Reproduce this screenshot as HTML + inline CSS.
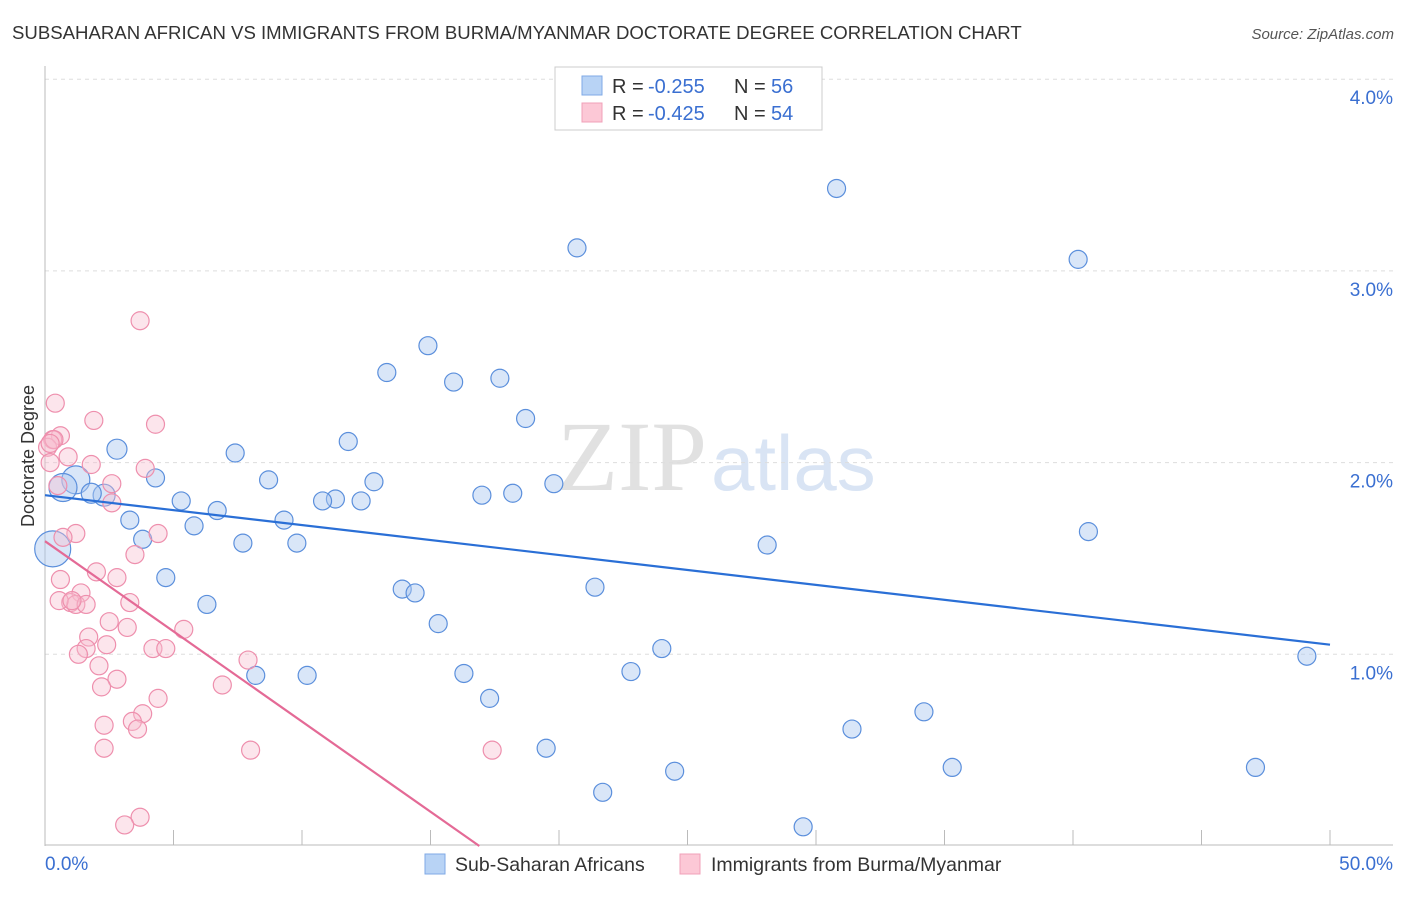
<!DOCTYPE html>
<html><head><meta charset="utf-8"><style>
body{margin:0;background:#fff;font-family:"Liberation Sans",sans-serif;}
svg text{font-family:"Liberation Sans",sans-serif;}
</style></head><body>
<svg id="chart" width="1406" height="892" xmlns="http://www.w3.org/2000/svg">
<text x="12" y="39" font-size="18.6" fill="#333">SUBSAHARAN AFRICAN VS IMMIGRANTS FROM BURMA/MYANMAR DOCTORATE DEGREE CORRELATION CHART</text>
<text x="1394" y="39" font-size="15" fill="#555" text-anchor="end" font-style="italic">Source: ZipAtlas.com</text>
<text x="557" y="490" font-size="100" fill="#ddd" opacity="0.7"><tspan font-family="Liberation Serif" fill="#d5d5d5">ZIP</tspan><tspan fill="#c9daf0" font-size="78" dx="4">atlas</tspan></text>
<g id="grid"></g>
<g id="axes"></g>
<g id="pts"></g>
<g id="trend"></g>
<text transform="translate(34,456) rotate(-90)" font-size="18" fill="#333" text-anchor="middle">Doctorate Degree</text>
<g>
<rect x="555" y="67" width="267" height="63" fill="#fff" stroke="#ccc"/>
<rect x="582" y="76" width="20" height="19" fill="#b8d3f5" stroke="#7fa9e6"/>
<rect x="582" y="103" width="20" height="19" fill="#fcc8d6" stroke="#f0a0b8"/>
<text x="612" y="93" font-size="20" fill="#333">R =</text>
<text x="648" y="93" font-size="20" fill="#3a6fd1">-0.255</text>
<text x="734" y="93" font-size="20" fill="#333">N =</text>
<text x="771" y="93" font-size="20" fill="#3a6fd1">56</text>
<text x="612" y="120" font-size="20" fill="#333">R =</text>
<text x="648" y="120" font-size="20" fill="#3a6fd1">-0.425</text>
<text x="734" y="120" font-size="20" fill="#333">N =</text>
<text x="771" y="120" font-size="20" fill="#3a6fd1">54</text>
</g>
<g>
<rect x="425" y="854" width="20" height="20" fill="#b8d3f5" stroke="#7fa9e6"/>
<text x="455" y="871" font-size="19.5" fill="#333">Sub-Saharan Africans</text>
<rect x="680" y="854" width="20" height="20" fill="#fcc8d6" stroke="#f0a0b8"/>
<text x="711" y="871" font-size="19.5" fill="#333">Immigrants from Burma/Myanmar</text>
</g>
</svg>
<script>
const xTicks=[0,5,10,15,20,25,30,35,40,45,50];
const yTicks=[1,2,3,4];
const blueX=[30.8,20.7,40.2,14.9,13.3,15.9,17.7,18.7,11.8,7.4,2.8,4.3,8.7,12.8,19.8,17.0,18.2,5.3,11.3,10.8,12.3,6.7,9.3,3.3,5.8,40.6,3.8,7.7,9.8,28.1,4.7,21.4,13.9,14.4,6.3,15.3,24.0,49.1,22.8,16.3,10.2,8.2,17.3,34.2,31.4,19.5,24.5,35.3,47.1,21.7,29.5,1.2,0.7,0.3,2.3,1.8];
const blueY=[3.43,3.12,3.06,2.61,2.47,2.42,2.44,2.23,2.11,2.05,2.07,1.92,1.91,1.90,1.89,1.83,1.84,1.80,1.81,1.80,1.80,1.75,1.70,1.70,1.67,1.64,1.60,1.58,1.58,1.57,1.40,1.35,1.34,1.32,1.26,1.16,1.03,0.99,0.91,0.90,0.89,0.89,0.77,0.70,0.61,0.51,0.39,0.41,0.41,0.28,0.10,1.91,1.87,1.55,1.83,1.84];
const blueR=[9,9,9,9,9,9,9,9,9,9,10,9,9,9,9,9,9,9,9,9,9,9,9,9,9,9,9,9,9,9,9,9,9,9,9,9,9,9,9,9,9,9,9,9,9,9,9,9,9,9,9,14,14,18,11,10];
const pinkX=[3.7,0.4,1.9,4.3,0.6,0.3,0.1,0.2,0.9,1.8,3.9,2.6,0.5,2.6,1.2,4.4,0.7,3.5,0.6,2.0,2.8,1.4,1.0,1.2,1.6,3.3,2.5,3.2,5.4,1.7,1.6,2.4,1.3,4.2,4.7,2.1,2.8,2.2,6.9,7.9,4.4,3.8,2.3,3.4,3.6,2.3,8.0,17.4,3.7,3.1,0.35,0.2,0.55,1.05];
const pinkY=[2.74,2.31,2.22,2.20,2.14,2.12,2.08,2.00,2.03,1.99,1.97,1.89,1.88,1.79,1.63,1.63,1.61,1.52,1.39,1.43,1.40,1.32,1.27,1.26,1.26,1.27,1.17,1.14,1.13,1.09,1.03,1.05,1.00,1.03,1.03,0.94,0.87,0.83,0.84,0.97,0.77,0.69,0.63,0.65,0.61,0.51,0.50,0.50,0.15,0.11,2.12,2.10,1.28,1.28];
const blueTrend=[[0,1.83],[50,1.05]];
const pinkTrend=[[0,1.59],[16.9,0]];
const ns="http://www.w3.org/2000/svg";
const sx=v=>45+v*25.7, sy=v=>846-v*191.7;
function mk(t,a,p){const e=document.createElementNS(ns,t);for(const k in a)e.setAttribute(k,a[k]);p.appendChild(e);return e;}
const grid=document.getElementById('grid'),axes=document.getElementById('axes'),pts=document.getElementById('pts'),tr=document.getElementById('trend');
yTicks.forEach(v=>{
 const l=mk('line',{x1:45,x2:1393,y1:sy(v),y2:sy(v),stroke:'#ddd','stroke-dasharray':'4,4'},grid);
 
 
 const t=mk('text',{x:1393,y:sy(v)+25,'font-size':19,fill:'#3a6fd1','text-anchor':'end'},axes);t.textContent=v.toFixed(1)+'%';
 
 
});
mk('line',{x1:45,x2:45,y1:66,y2:846,stroke:'#bbb'},axes);
mk('line',{x1:45,x2:1393,y1:845,y2:845,stroke:'#bbb'},axes);
xTicks.forEach(v=>{
 const l=mk('line',{x1:sx(v),x2:sx(v),y1:830,y2:845,stroke:'#bbb'},axes);
 
 
});
[[0,'0.0%','start',45],[50,'50.0%','end',1393]].forEach(a=>{
 const t=mk('text',{x:a[3],y:870,'font-size':19,fill:'#3a6fd1','text-anchor':a[2]},axes);t.textContent=a[1];
 
 
});
blueX.forEach((x,i)=>{
 const c=mk('circle',{cx:sx(x),cy:sy(blueY[i]),r:blueR[i],fill:'rgba(170,200,240,0.45)',stroke:'#5b8fdc','stroke-width':1.2},pts);
 
 
});
pinkX.forEach((x,i)=>{
 const c=mk('circle',{cx:sx(x),cy:sy(pinkY[i]),r:9,fill:'rgba(248,190,208,0.4)',stroke:'#ee8fad','stroke-width':1.2},pts);
 
 
});
const b=mk('line',{x1:sx(blueTrend[0][0]),y1:sy(blueTrend[0][1]),x2:sx(blueTrend[1][0]),y2:sy(blueTrend[1][1]),stroke:'#2a6fd6','stroke-width':2.2},tr);


const p=mk('line',{x1:sx(pinkTrend[0][0]),y1:sy(pinkTrend[0][1]),x2:sx(pinkTrend[1][0]),y2:sy(pinkTrend[1][1]),stroke:'#e46a96','stroke-width':2.2},tr);


</script>
</body></html>
